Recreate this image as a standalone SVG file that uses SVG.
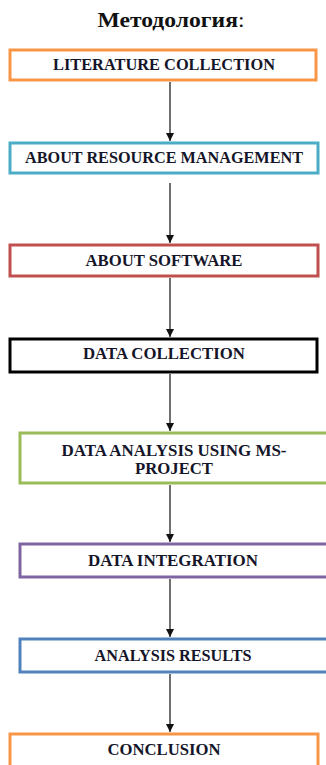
<svg xmlns="http://www.w3.org/2000/svg" width="326" height="765" viewBox="0 0 326 765">
  <style>
    .box { fill: #ffffff; stroke-width: 3; }
    .lbl { font-family: "Liberation Serif", "Times New Roman", serif; font-weight: bold; font-size: 16.5px; fill: #15152a; text-anchor: middle; }
    .title { font-family: "Liberation Serif", "Times New Roman", serif; font-size: 21px; fill: #111; text-anchor: middle; }
    .link { stroke: #222; stroke-width: 1.3; fill: none; marker-end: url(#arrow); }
  </style>
  <defs>
    <marker id="arrow" viewBox="0 0 10 10" refX="10" refY="5" markerWidth="8" markerHeight="8" markerUnits="userSpaceOnUse" orient="auto">
      <path d="M0,0 L10,5 L0,10 Z" fill="#111"/>
    </marker>
  </defs>
  <rect width="326" height="765" fill="#ffffff"/>

  <text class="title" x="171" y="27" textLength="147" lengthAdjust="spacingAndGlyphs"><tspan font-weight="bold">Методология</tspan>:</text>

  <g id="connectors">
    <line class="link" x1="170" y1="82" x2="170" y2="141"/>
    <line class="link" x1="170" y1="183" x2="170" y2="243"/>
    <line class="link" x1="170" y1="278" x2="170" y2="337"/>
    <line class="link" x1="170" y1="374" x2="170" y2="431"/>
    <line class="link" x1="170" y1="485" x2="170" y2="542"/>
    <line class="link" x1="170" y1="579" x2="170" y2="637"/>
    <line class="link" x1="170" y1="674" x2="170" y2="732"/>
  </g>

  <g id="literature-collection">
    <rect class="box" x="10" y="50" width="306" height="30" stroke="#f79646"/>
    <text class="lbl" x="164" y="70" textLength="222" lengthAdjust="spacingAndGlyphs">LITERATURE COLLECTION</text>
  </g>
  <g id="about-resource-management">
    <rect class="box" x="10" y="143" width="308" height="30" stroke="#4bacc6"/>
    <text class="lbl" x="164" y="163" textLength="278" lengthAdjust="spacingAndGlyphs">ABOUT RESOURCE MANAGEMENT</text>
  </g>
  <g id="about-software">
    <rect class="box" x="10" y="245" width="308" height="31" stroke="#c0504d"/>
    <text class="lbl" x="164" y="266" textLength="157" lengthAdjust="spacingAndGlyphs">ABOUT SOFTWARE</text>
  </g>
  <g id="data-collection">
    <rect class="box" x="10" y="339" width="307" height="33" stroke="#000000" stroke-width="4"/>
    <text class="lbl" x="164" y="359" textLength="162" lengthAdjust="spacingAndGlyphs">DATA COLLECTION</text>
  </g>
  <g id="data-analysis">
    <rect class="box" x="20" y="433" width="312" height="50" stroke="#9bbb59"/>
    <text class="lbl" x="174" y="456" textLength="225" lengthAdjust="spacingAndGlyphs">DATA ANALYSIS USING MS-</text>
    <text class="lbl" x="174" y="474" textLength="78" lengthAdjust="spacingAndGlyphs">PROJECT</text>
  </g>
  <g id="data-integration">
    <rect class="box" x="20" y="544" width="312" height="33" stroke="#8064a2"/>
    <text class="lbl" x="173" y="566" textLength="170" lengthAdjust="spacingAndGlyphs">DATA INTEGRATION</text>
  </g>
  <g id="analysis-results">
    <rect class="box" x="20" y="639" width="312" height="33" stroke="#4f81bd"/>
    <text class="lbl" x="173" y="661" textLength="157" lengthAdjust="spacingAndGlyphs">ANALYSIS RESULTS</text>
  </g>
  <g id="conclusion">
    <rect class="box" x="10" y="734" width="308" height="40" stroke="#f79646"/>
    <text class="lbl" x="164" y="755" textLength="113" lengthAdjust="spacingAndGlyphs">CONCLUSION</text>
  </g>
</svg>
